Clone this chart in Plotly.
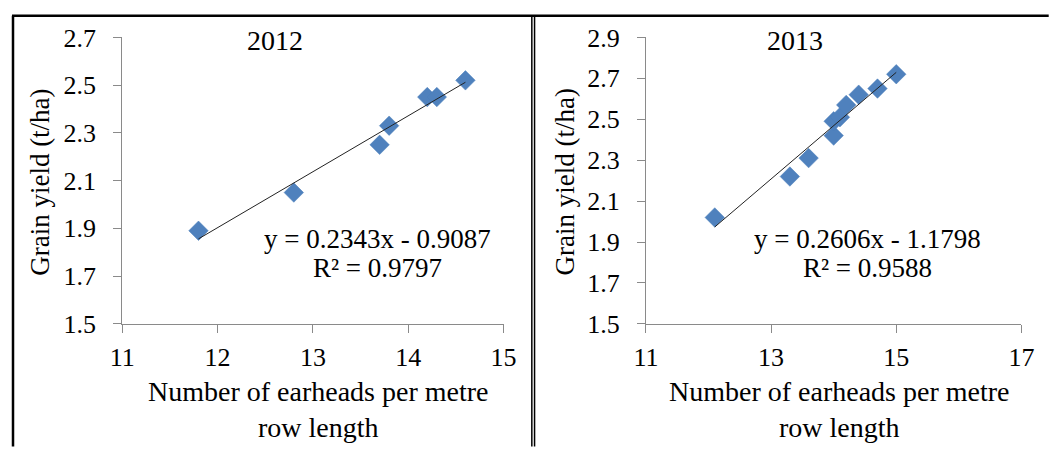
import plotly.graph_objects as go

W, H = 1050, 454
OX, OY = 8, 8   # page body offset of the figure

# ---- data ----
x2012 = [11.8, 12.8, 13.7, 13.8, 14.2, 14.3, 14.6]
y2012 = [1.89, 2.05, 2.25, 2.33, 2.45, 2.45, 2.52]
x2013 = [12.1, 13.3, 13.6, 14.0, 14.0, 14.1, 14.2, 14.4, 14.7, 15.0]
y2013 = [2.02, 2.22, 2.31, 2.42, 2.49, 2.51, 2.57, 2.62, 2.65, 2.72]
fit2012 = [0.2343, -0.9087]
fit2013 = [0.2606, -1.1798]
eq2012 = ["y = 0.2343x - 0.9087", "R² = 0.9797"]
eq2013 = ["y = 0.2606x - 1.1798", "R² = 0.9588"]
titles = ["2012", "2013"]
xticks_l = [11, 12, 13, 14, 15]
yticks_l = [1.5, 1.7, 1.9, 2.1, 2.3, 2.5, 2.7]
xticks_r = [11, 13, 15, 17]
yticks_r = [1.5, 1.7, 1.9, 2.1, 2.3, 2.5, 2.7, 2.9]
ytitle = "Grain yield (t/ha)"
xtitle = "Number of earheads per metre<br>row length"

FONT = "Liberation Serif"
BLUE = "#4F81BD"
AX = "#8A8A8A"

def px(x):
    return (x - OX) / W

def py(y):
    return 1 - (y - OY) / H

fig = go.Figure()

def add_panel(xs, ys, fit, xa, ya):
    fig.add_trace(go.Scatter(x=xs, y=ys, mode="markers", xaxis=xa, yaxis=ya,
                             marker=dict(symbol="diamond", size=15, color=BLUE,
                                         line=dict(color="#4A7EBB", width=0.5)),
                             showlegend=False))
    x0, x1 = min(xs), max(xs)
    fig.add_trace(go.Scatter(x=[x0, x1], y=[fit[0] * x0 + fit[1], fit[0] * x1 + fit[1]],
                             mode="lines", xaxis=xa, yaxis=ya,
                             line=dict(color="#222222", width=1), showlegend=False))

add_panel(x2012, y2012, fit2012, "x", "y")
add_panel(x2013, y2013, fit2013, "x2", "y2")

axcommon = dict(showline=True, linecolor=AX, linewidth=1, ticks="outside", ticklen=8,
                tickcolor=AX, showgrid=False, zeroline=False,
                tickfont=dict(family=FONT, size=26, color="#000"))

fig.update_layout(
    width=W, height=H, margin=dict(l=0, r=0, t=0, b=0),
    paper_bgcolor="white", plot_bgcolor="white",
    xaxis=dict(domain=[px(120), px(511)], range=[11, 15], tickvals=xticks_l,
               anchor="y", ticklabelstandoff=2, **axcommon),
    yaxis=dict(domain=[py(339), py(33)], range=[1.5, 2.7], tickvals=yticks_l,
               ticktext=[f"{v:.1f}" for v in yticks_l], anchor="x",
               ticklabelstandoff=12, **axcommon),
    xaxis2=dict(domain=[px(657), px(1042)], range=[11, 17], tickvals=xticks_r,
                anchor="y2", ticklabelstandoff=2, **axcommon),
    yaxis2=dict(domain=[py(339), py(33)], range=[1.5, 2.9], tickvals=yticks_r,
                ticktext=[f"{v:.1f}" for v in yticks_r], anchor="x2",
                ticklabelstandoff=12, **axcommon),
)

anns = []
tf = dict(family=FONT, size=27, color="#000")
tf_title = dict(family=FONT, size=28, color="#000")
for cx, title in [(277, titles[0]), (810, titles[1])]:
    anns.append(dict(x=px(cx), y=py(36), xref="paper", yref="paper", text=title,
                     showarrow=False, font=tf_title, xanchor="center", yanchor="middle"))
for cx, eq in [(382, eq2012), (884, eq2013)]:
    anns.append(dict(x=px(cx), y=py(248), xref="paper", yref="paper", text=eq[0],
                     showarrow=False, font=tf, xanchor="center", yanchor="middle"))
    anns.append(dict(x=px(cx), y=py(279), xref="paper", yref="paper", text=eq[1],
                     showarrow=False, font=tf, xanchor="center", yanchor="middle"))
for cx in [35, 573]:
    anns.append(dict(x=px(cx), y=py(188), xref="paper", yref="paper", text=ytitle,
                     textangle=-90, showarrow=False, font=tf, xanchor="center", yanchor="middle"))
for cx in [321, 855]:
    anns.append(dict(x=px(cx), y=py(430), xref="paper", yref="paper", text=xtitle,
                     showarrow=False, font=tf_title, xanchor="center", yanchor="middle"))
fig.update_layout(annotations=anns)

shapes = [
    dict(type="line", xref="paper", yref="paper", x0=px(7), x1=px(1070), y0=py(10), y1=py(10),
         line=dict(color="black", width=2.5)),
    dict(type="line", xref="paper", yref="paper", x0=px(8), x1=px(8), y0=py(10), y1=py(470),
         line=dict(color="black", width=2.5)),
    dict(type="line", xref="paper", yref="paper", x0=px(540), x1=px(540), y0=py(10), y1=py(470),
         line=dict(color="black", width=1.5)),
    dict(type="line", xref="paper", yref="paper", x0=px(542.8), x1=px(542.8), y0=py(10), y1=py(470),
         line=dict(color="black", width=1.5)),
]
fig.update_layout(shapes=shapes)

fig.write_html("out.html")
